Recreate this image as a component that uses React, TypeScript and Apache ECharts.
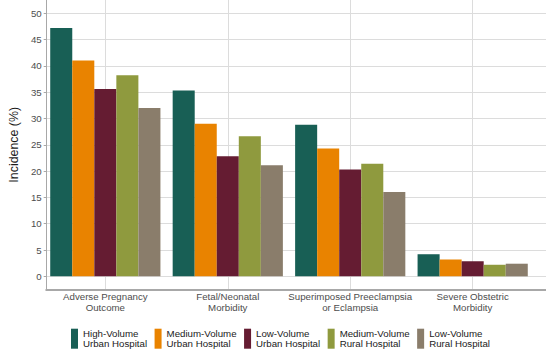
import React, { useEffect, useRef } from "react";
import * as echarts from "echarts";

const categories = [
  "Adverse Pregnancy\nOutcome",
  "Fetal/Neonatal\nMorbidity",
  "Superimposed Preeclampsia\nor Eclampsia",
  "Severe Obstetric\nMorbidity",
];
const seriesNames = [
  "High-Volume\nUrban Hospital",
  "Medium-Volume\nUrban Hospital",
  "Low-Volume\nUrban Hospital",
  "Medium-Volume\nRural Hospital",
  "Low-Volume\nRural Hospital",
];
const highVolumeUrban = [47.2, 35.3, 28.8, 4.2];
const mediumVolumeUrban = [41.0, 29.0, 24.3, 3.2];
const lowVolumeUrban = [35.6, 22.8, 20.3, 2.85];
const mediumVolumeRural = [38.2, 26.6, 21.4, 2.2];
const lowVolumeRural = [32.0, 21.1, 16.0, 2.4];
const seriesValues = [highVolumeUrban, mediumVolumeUrban, lowVolumeUrban, mediumVolumeRural, lowVolumeRural];
const colors = ["#185f55", "#e98300", "#651c32", "#8f9a3e", "#8a7d6b"];
const yTicks = [0, 5, 10, 15, 20, 25, 30, 35, 40, 45, 50];

const FONT = "'Liberation Sans', Arial, sans-serif";
const GRID_COLOR = "#dcdcdc";
const AXIS_COLOR = "#a8a8a8";

export default function App() {
  const ref = useRef<HTMLDivElement>(null);
  useEffect(() => {
    if (!ref.current) return;
    const chart = echarts.init(ref.current, undefined, { renderer: "svg" });
    chart.setOption({
      animation: false,
      textStyle: { fontFamily: FONT },
      grid: [
        { left: 32, right: 0, top: 0, bottom: 60.5, containLabel: false },
        { left: 44.1, right: 12.1, top: 0, bottom: 60.5, containLabel: false },
      ],
      legend: {
        left: 71,
        top: 328.5,
        padding: 0,
        itemGap: 7.5,
        itemWidth: 7,
        itemHeight: 20,
        icon: "rect",
        textStyle: { fontFamily: FONT, fontSize: 9.7, color: "#1a1a1a", lineHeight: 10.2 },
        data: seriesNames,
      },
      xAxis: [
        {
          type: "value",
          gridIndex: 0,
          min: 0,
          max: 1,
          axisLine: { show: true, onZero: false, lineStyle: { color: AXIS_COLOR, width: 1.8 } },
          axisTick: { show: false },
          axisLabel: { show: false },
          splitLine: { show: false },
        },
        {
          type: "category",
          gridIndex: 1,
          data: categories,
          axisLine: { show: false, onZero: false },
          axisTick: { show: false },
          axisLabel: {
            fontFamily: FONT,
            fontSize: 9.7,
            color: "#4d4d4d",
            lineHeight: 11.6,
            margin: 1,
            interval: 0,
          },
          splitLine: {
            show: true,
            alignWithLabel: true,
            interval: 0,
            lineStyle: { color: GRID_COLOR, width: 1 },
          },
        },
      ],
      yAxis: [
        {
          type: "value",
          gridIndex: 0,
          min: -2.5,
          max: 52.5,
          name: "Incidence (%)",
          nameLocation: "middle",
          nameGap: 17,
          nameTextStyle: { fontFamily: FONT, fontSize: 12.4, color: "#1a1a1a" },
          axisLine: { show: true, onZero: false, lineStyle: { color: AXIS_COLOR, width: 1 } },
          axisTick: { show: true, length: 2.5, customValues: yTicks, lineStyle: { color: AXIS_COLOR } },
          axisLabel: {
            customValues: yTicks,
            fontFamily: FONT,
            fontSize: 9.7,
            color: "#4d4d4d",
            margin: 4.5,
          },
          splitLine: { show: true, lineStyle: { color: GRID_COLOR, width: 1 } },
        },
        {
          type: "value",
          gridIndex: 1,
          min: -2.5,
          max: 52.5,
          show: false,
          splitLine: { show: false },
        },
      ],
      series: seriesNames.map((name, s) => ({
        name,
        type: "bar",
        xAxisIndex: 1,
        yAxisIndex: 1,
        barGap: "0%",
        barCategoryGap: "10%",
        itemStyle: { color: colors[s] },
        data: seriesValues[s],
      })),
    });
    return () => chart.dispose();
  }, []);
  return (
    <div
      ref={ref}
      style={{ position: "fixed", left: 0, top: 0, width: 546, height: 350, background: "#fff" }}
    />
  );
}
